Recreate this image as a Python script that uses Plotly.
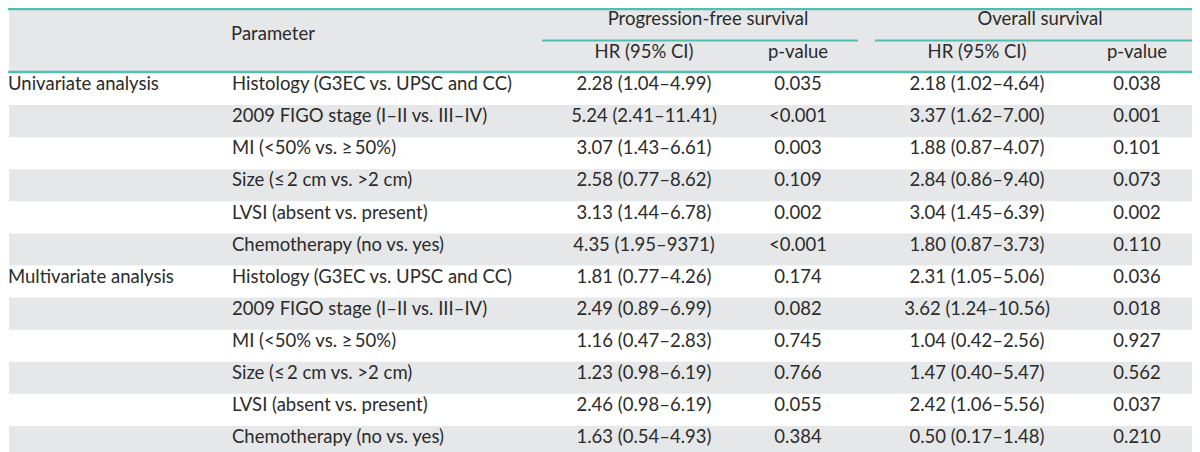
import plotly.graph_objects as go

# ---------------- data ----------------
groups = ["Univariate analysis", "Multivariate analysis"]
parameters = [
    "Histology (G3EC vs. UPSC and CC)",
    "2009 FIGO stage (I\u2013II vs. III\u2013IV)",
    "MI (<50% vs. \u2265\u200950%)",
    "Size (\u2264\u20092 cm vs. >2 cm)",
    "LVSI (absent vs. present)",
    "Chemotherapy (no vs. yes)",
]
pfs_hr = [
    "2.28 (1.04\u20134.99)", "5.24 (2.41\u201311.41)", "3.07 (1.43\u20136.61)",
    "2.58 (0.77\u20138.62)", "3.13 (1.44\u20136.78)", "4.35 (1.95\u20139371)",
    "1.81 (0.77\u20134.26)", "2.49 (0.89\u20136.99)", "1.16 (0.47\u20132.83)",
    "1.23 (0.98\u20136.19)", "2.46 (0.98\u20136.19)", "1.63 (0.54\u20134.93)",
]
pfs_p = ["0.035", "<0.001", "0.003", "0.109", "0.002", "<0.001",
         "0.174", "0.082", "0.745", "0.766", "0.055", "0.384"]
os_hr = [
    "2.18 (1.02\u20134.64)", "3.37 (1.62\u20137.00)", "1.88 (0.87\u20134.07)",
    "2.84 (0.86\u20139.40)", "3.04 (1.45\u20136.39)", "1.80 (0.87\u20133.73)",
    "2.31 (1.05\u20135.06)", "3.62 (1.24\u201310.56)", "1.04 (0.42\u20132.56)",
    "1.47 (0.40\u20135.47)", "2.42 (1.06\u20135.56)", "0.50 (0.17\u20131.48)",
]
os_p = ["0.038", "0.001", "0.101", "0.073", "0.002", "0.110",
        "0.036", "0.018", "0.927", "0.562", "0.037", "0.210"]
header_top = ["Parameter", "Progression-free survival", "Overall survival"]
header_sub = ["HR (95% CI)", "p-value", "HR (95% CI)", "p-value"]

# ---------------- layout constants ----------------
W, H = 1200, 452
TEAL = "#52bdb2"
GRAY = "#e6e7e8"
TXT = "#2b2b2b"
FONT = "Lato"
FS = 18.5
DY = -3.5          # text baseline correction
LPAD = 8           # scatter text offset for left-aligned labels

ROW_TOP = 65.0
ROW_H = (450.0 - ROW_TOP) / 12
x_group = 8
x_param = 232
x_pfs_hr, x_pfs_p = 636, 790
x_os_hr, x_os_p = 969, 1129
n = len(pfs_hr)
per_group = len(parameters)

row_y = [ROW_TOP + ROW_H * (i + 0.5) + DY for i in range(n)]

fig = go.Figure()

shapes = []
shapes.append(dict(type="rect", x0=1, x1=W - 1, y0=2, y1=64, fillcolor=GRAY,
                   line_width=0, layer="below"))
for i in range(n):
    if i % 2 == 1:
        shapes.append(dict(type="rect", x0=1, x1=W - 1, y0=ROW_TOP + ROW_H * i,
                           y1=ROW_TOP + ROW_H * (i + 1), fillcolor=GRAY,
                           line_width=0, layer="below"))
for y, x0, x1, w in [(1, 0, W, 2.5), (64, 0, W, 2.5), (450.5, 0, W, 2.5),
                     (32.5, 534, 850, 2), (32.5, 867, 1198, 2)]:
    shapes.append(dict(type="line", x0=x0, x1=x1, y0=y, y1=y,
                       line=dict(color=TEAL, width=w)))

def add_text(xs, ys, texts, pos):
    fig.add_trace(go.Scatter(
        x=xs, y=ys, text=texts, mode="text", textposition=pos,
        textfont=dict(family=FONT, size=FS, color=TXT),
        hoverinfo="skip", showlegend=False, cliponaxis=False))

# headers
add_text([265], [31 + DY], [header_top[0]], "middle center")
add_text([700, 1032], [16 + DY] * 2, header_top[1:], "middle center")
add_text([x_pfs_hr, x_pfs_p, x_os_hr, x_os_p], [48.5 + DY] * 4, header_sub, "middle center")

# group labels
add_text([x_group - LPAD] * len(groups),
         [row_y[g * per_group] for g in range(len(groups))], groups, "middle right")
# parameters
add_text([x_param - LPAD] * n, row_y, [parameters[i % per_group] for i in range(n)],
         "middle right")
# values
add_text([x_pfs_hr] * n, row_y, pfs_hr, "middle center")
add_text([x_pfs_p] * n, row_y, pfs_p, "middle center")
add_text([x_os_hr] * n, row_y, os_hr, "middle center")
add_text([x_os_p] * n, row_y, os_p, "middle center")

fig.update_layout(
    width=W, height=H, margin=dict(l=0, r=0, t=0, b=0),
    paper_bgcolor="white", plot_bgcolor="white",
    shapes=shapes,
    xaxis=dict(range=[0, W], visible=False, fixedrange=True),
    yaxis=dict(range=[H, 0], visible=False, fixedrange=True),
)
fig.write_html("out.html", config={"displayModeBar": False})
